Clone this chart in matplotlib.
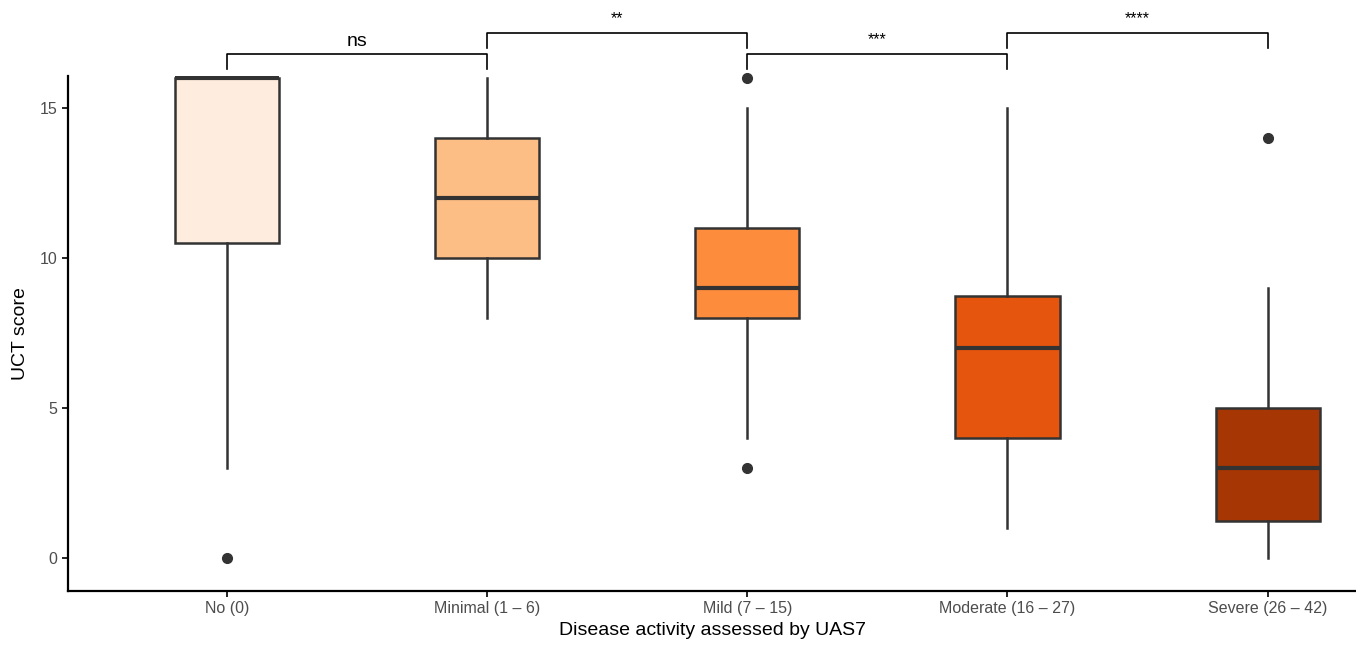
import matplotlib
matplotlib.use("Agg")
import matplotlib.pyplot as plt

plt.rcParams['font.family'] = ['Liberation Sans', 'DejaVu Sans']

# data
groups = ["No (0)", "Minimal (1 – 6)", "Mild (7 – 15)", "Moderate (16 – 27)", "Severe (26 – 42)"]
q1 = [10.5, 10, 8, 4, 1.25]
med = [16, 12, 9, 7, 3]
q3 = [16, 14, 11, 8.75, 5]
wlo = [3, 8, 4, 1, 0]
whi = [16, 16, 15, 15, 9]
fliers = [[0], [], [16, 3], [], [14]]
colors = ["#FEEDDE", "#FDBE85", "#FD8D3C", "#E6550D", "#A63603"]

# comparisons: (group a, group b, bar height, tip height, label)
comparisons = [(0, 1, 16.83, 16.33, "ns"),
               (1, 2, 17.53, 17.0, "**"),
               (2, 3, 16.83, 16.33, "***"),
               (3, 4, 17.53, 17.0, "****")]

fig = plt.figure(figsize=(13.56, 6.45), dpi=100)
ax = fig.add_axes([0.0501, 0.0837, 0.951, 0.798])

stats = []
for i in range(len(groups)):
    stats.append(dict(q1=q1[i], med=med[i], q3=q3[i], whislo=wlo[i],
                      whishi=whi[i], fliers=fliers[i]))

pos = list(range(1, len(groups) + 1))
bp = ax.bxp(stats, positions=pos, widths=0.4, patch_artist=True,
            showcaps=False,
            boxprops=dict(edgecolor="#333333", linewidth=1.8),
            medianprops=dict(color="#333333", linewidth=3),
            whiskerprops=dict(color="#333333", linewidth=1.8),
            flierprops=dict(marker="o", markerfacecolor="#333333",
                            markeredgecolor="#333333", markersize=7))
for patch, c in zip(bp["boxes"], colors):
    patch.set_facecolor(c)
for fl in bp["fliers"]:
    fl.set_clip_on(False)

for a, b, yb, yt, lab in comparisons:
    xa, xb = pos[a], pos[b]
    ax.plot([xa, xa, xb, xb], [yt, yb, yb, yt], color="black", lw=1.2,
            clip_on=False)
    if lab == "ns":
        ax.text((xa + xb) / 2, yb + 0.12, lab, ha="center", va="bottom",
                fontsize=14, clip_on=False)
    else:
        ax.text((xa + xb) / 2, yb + 0.2, lab, ha="center", va="bottom",
                fontsize=11.5, clip_on=False)

ax.set_xlim(0.39, 5.345)
ax.set_ylim(-1.1, 16.07)
ax.set_xticks(pos)
ax.set_xticklabels(groups)
ax.set_yticks([0, 5, 10, 15])
ax.tick_params(axis="both", colors="black", labelcolor="#4D4D4D",
               labelsize=11.5, length=4, width=1.2)
ax.spines["top"].set_visible(False)
ax.spines["right"].set_visible(False)
ax.spines["left"].set_linewidth(1.6)
ax.spines["bottom"].set_linewidth(1.6)
ax.set_xlabel("Disease activity assessed by UAS7", fontsize=14, labelpad=4)
ax.set_ylabel("UCT score", fontsize=14, labelpad=8)

fig.savefig("out.png", dpi=100)
